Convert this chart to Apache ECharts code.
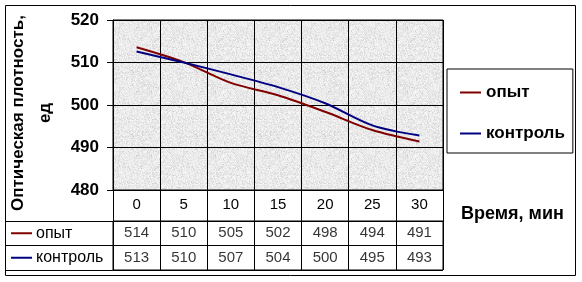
<!DOCTYPE html>
<html>
<head>
<meta charset="utf-8">
<script src="https://cdn.jsdelivr.net/npm/echarts@6/dist/echarts.min.js"></script>
<style>
html,body{margin:0;padding:0;background:#fff;}
#chart{width:582px;height:282px;}
</style>
</head>
<body>
<div id="chart"></div>
<script>
// ---- data ----
const categories = ['0', '5', '10', '15', '20', '25', '30'];
const seriesNames = ['опыт', 'контроль'];
const opyt = [513.6, 510.1, 505.2, 502.3, 498.4, 494.1, 491.4];
const kontrol = [512.6, 510.0, 507.2, 504.2, 500.4, 495.2, 492.8];
const yTicks = [480, 490, 500, 510, 520];
const yTitle = 'Оптическая плотность,\nед';
const xTitle = 'Время, мин';

const colors = ['#800000', '#000080'];
const FONT = 'Liberation Sans, Arial, sans-serif';

// table cells built from the series values
const tableData = [];
[opyt, kontrol].forEach((arr, r) => {
  arr.forEach((v, i) => tableData.push([categories[i], seriesNames[r], Math.round(v)]));
});

// granite-like plot-area texture (deterministic speckle)
function makeTexture() {
  const c = document.createElement('canvas');
  c.width = 64; c.height = 64;
  const ctx = c.getContext('2d');
  const img = ctx.createImageData(64, 64);
  let s = 12345;
  for (let i = 0; i < 64 * 64; i++) {
    s = (s * 1103515245 + 12345) & 0x7fffffff;
    const h = (s >> 8) % 100;
    let g = 238;
    if (h < 8) g = 212; else if (h < 25) g = 224; else if (h < 50) g = 232; else if (h > 85) g = 247;
    img.data[i * 4] = g; img.data[i * 4 + 1] = g; img.data[i * 4 + 2] = g; img.data[i * 4 + 3] = 255;
  }
  ctx.putImageData(img, 0, 0);
  return c;
}

const chart = echarts.init(document.getElementById('chart'));
chart.setOption({
  animation: false,
  backgroundColor: '#ffffff',
  textStyle: { fontFamily: FONT, color: '#000' },
  grid: [
    { left: 113, top: 20, width: 330, height: 170, show: true, containLabel: false, outerBoundsMode: 'none',
      backgroundColor: { image: makeTexture(), repeat: 'repeat' }, borderColor: '#000', borderWidth: 1 },
    { left: 113, top: 221, width: 330, height: 49, show: true, containLabel: false, outerBoundsMode: 'none',
      backgroundColor: 'transparent', borderColor: '#000', borderWidth: 1 }
  ],
  xAxis: [
    { type: 'category', gridIndex: 0, data: categories, boundaryGap: true,
      axisLine: { show: true, lineStyle: { color: '#000', width: 1 } },
      axisTick: { show: true, length: 31, interval: 0, lineStyle: { color: '#000' } },
      axisLabel: { fontSize: 15, color: '#000', fontFamily: FONT, margin: 15,
                   verticalAlign: 'middle', interval: 0 },
      splitLine: { show: true, interval: 0, lineStyle: { color: '#000', width: 1 } } },
    { type: 'category', gridIndex: 1, data: categories, boundaryGap: true,
      axisLine: { show: false }, axisTick: { show: false }, axisLabel: { show: false },
      splitLine: { show: true, interval: 0, lineStyle: { color: '#000', width: 1 } } }
  ],
  yAxis: [
    { type: 'value', gridIndex: 0, min: yTicks[0], max: yTicks[yTicks.length - 1], interval: 10,
      axisLine: { show: true, lineStyle: { color: '#000' } },
      axisTick: { show: true, length: 6, lineStyle: { color: '#000' } },
      axisLabel: { fontSize: 17, fontWeight: 'bold', color: '#000', fontFamily: FONT, margin: 14 },
      splitLine: { show: true, lineStyle: { color: '#000', width: 1 } },
      name: yTitle, nameLocation: 'middle', nameRotate: 90, nameGap: 54,
      nameTextStyle: { fontSize: 17, fontWeight: 'bold', color: '#000', fontFamily: FONT,
                       lineHeight: 27, padding: [0, 16, 0, 0] } },
    { type: 'category', gridIndex: 1, data: seriesNames, inverse: true, boundaryGap: true,
      axisLine: { show: true, lineStyle: { color: '#000' } },
      axisTick: { show: true, length: 108, interval: 0, lineStyle: { color: '#000' } },
      splitLine: { show: true, interval: 0, lineStyle: { color: '#000' } },
      axisLabel: {
        align: 'left', margin: 102, interval: 0,
        formatter: (v) => (v === seriesNames[0] ? '{k0|}' : '{k1|}') + '{t|' + v + '}',
        rich: {
          k0: { width: 21, height: 2, backgroundColor: colors[0] },
          k1: { width: 21, height: 2, backgroundColor: colors[1] },
          t: { fontSize: 16, color: '#000', fontFamily: FONT, padding: [0, 0, 0, 4] }
        }
      } }
  ],
  legend: {
    data: seriesNames, orient: 'vertical', left: 447, top: 69,
    borderColor: '#000', borderWidth: 1, padding: [15, 8, 11, 13],
    icon: 'rect', itemWidth: 21, itemHeight: 2, itemGap: 24,
    textStyle: { fontSize: 17, fontWeight: 'bold', color: '#000', fontFamily: FONT }
  },
  title: {
    text: xTitle, left: 461, top: 205, padding: 0,
    textStyle: { fontSize: 18, fontWeight: 'bold', color: '#000', fontFamily: FONT }
  },
  graphic: [
    { type: 'rect', shape: { x: 5.5, y: 5.5, width: 570, height: 270 },
      style: { fill: 'none', stroke: '#000', lineWidth: 1 }, silent: true }
  ],
  series: [
    { name: seriesNames[0], type: 'line', xAxisIndex: 0, yAxisIndex: 0, data: opyt,
      smooth: 0.3, symbol: 'none', lineStyle: { color: colors[0], width: 2 }, itemStyle: { color: colors[0] } },
    { name: seriesNames[1], type: 'line', xAxisIndex: 0, yAxisIndex: 0, data: kontrol,
      smooth: 0.3, symbol: 'none', lineStyle: { color: colors[1], width: 2 }, itemStyle: { color: colors[1] } },
    { name: 'table', type: 'scatter', xAxisIndex: 1, yAxisIndex: 1, data: tableData,
      symbolSize: 0, silent: true, encode: { x: 0, y: 1 },
      label: { show: true, position: 'inside', formatter: (p) => String(p.value[2]),
               fontSize: 15, color: '#000', fontFamily: FONT } }
  ]
});
</script>
</body>
</html>
